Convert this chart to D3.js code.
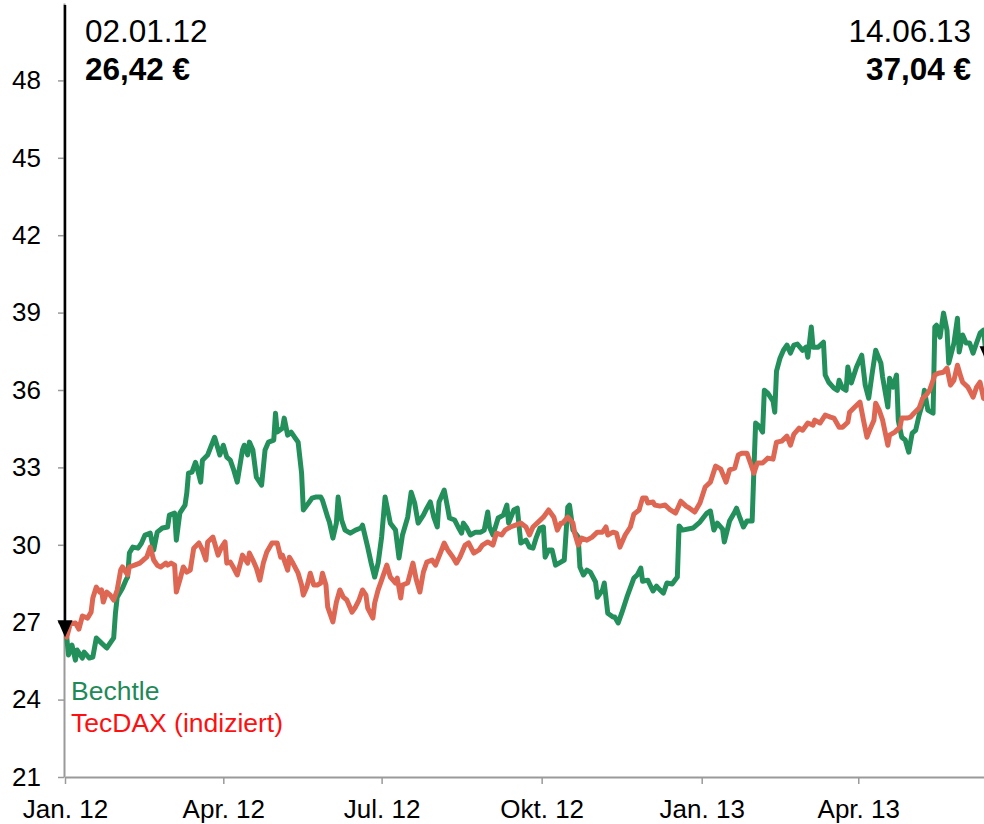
<!DOCTYPE html>
<html>
<head>
<meta charset="utf-8">
<script src="https://cdn.jsdelivr.net/npm/d3@7"></script>
<style>
	body { margin: 0; background: #fff; }
	#chart { width: 984px; height: 824px; overflow: hidden; }
	svg { display: block; font-family: Arial, "Liberation Sans", sans-serif; }
</style>
</head>
<body>
<div id="chart"></div>
<script>
// Daily closes, [date, price in €]
const bechtle = [
	["02.01.12",26.42],["03.01.12",25.73],["05.01.12",26.11],["07.01.12",25.53],["08.01.12",25.92],["11.01.12",25.61],["12.01.12",25.84],["15.01.12",25.61],["17.01.12",25.65],["19.01.12",26.39],["22.01.12",26.19],["25.01.12",26.00],["29.01.12",26.39],["30.01.12",27.35],["31.01.12",27.97],
	["03.02.12",28.32],["05.02.12",28.63],["06.02.12",28.75],["07.02.12",29.68],["09.02.12",29.91],["12.02.12",29.87],["14.02.12",30.07],["16.02.12",30.38],["19.02.12",30.45],["21.02.12",29.80],["23.02.12",30.49],["26.02.12",30.65],["29.02.12",30.69],
	["01.03.12",31.15],["04.03.12",31.23],["05.03.12",30.18],["07.03.12",31.23],["10.03.12",31.54],["11.03.12",32.00],["12.03.12",32.78],["14.03.12",32.82],["16.03.12",33.20],["17.03.12",32.97],["19.03.12",32.43],["20.03.12",33.28],["23.03.12",33.48],["27.03.12",34.17],["30.03.12",33.48],
	["01.04.12",33.86],["03.04.12",33.40],["05.04.12",33.28],["07.04.12",32.90],["09.04.12",32.43],["12.04.12",33.67],["13.04.12",33.86],["15.04.12",33.48],["16.04.12",33.98],["18.04.12",33.67],["20.04.12",32.62],["23.04.12",32.31],["25.04.12",33.67],["27.04.12",33.98],["30.04.12",34.06],
	["01.05.12",35.10],["02.05.12",34.37],["05.05.12",34.52],["06.05.12",34.91],["08.05.12",34.25],["10.05.12",34.37],["12.05.12",34.17],["14.05.12",33.98],["16.05.12",32.78],["17.05.12",31.35],["20.05.12",31.62],["22.05.12",31.81],["24.05.12",31.85],["27.05.12",31.85],["28.05.12",31.73],["31.05.12",31.07],
	["01.06.12",30.88],["03.06.12",30.26],["05.06.12",30.84],["06.06.12",31.85],["08.06.12",30.96],["10.06.12",30.57],["13.06.12",30.45],["16.06.12",30.57],["19.06.12",30.65],["20.06.12",30.76],["23.06.12",29.91],["25.06.12",29.29],["27.06.12",28.75],["29.06.12",29.29],
	["01.07.12",30.30],["03.07.12",31.85],["06.07.12",30.84],["09.07.12",30.57],["11.07.12",29.49],["13.07.12",30.38],["16.07.12",31.07],["18.07.12",32.04],["20.07.12",31.62],["22.07.12",30.84],["25.07.12",31.15],["27.07.12",31.42],["29.07.12",31.66],["31.07.12",31.07],
	["02.08.12",30.69],["03.08.12",31.66],["06.08.12",32.12],["08.08.12",31.42],["09.08.12",31.04],["12.08.12",30.96],["14.08.12",30.69],["16.08.12",30.45],["17.08.12",30.84],["19.08.12",30.65],["21.08.12",30.38],["24.08.12",30.49],["27.08.12",30.49],["29.08.12",30.57],["31.08.12",31.27],
	["01.09.12",30.69],["03.09.12",30.38],["06.09.12",31.04],["09.09.12",31.15],["11.09.12",31.54],["12.09.12",30.84],["15.09.12",31.35],["17.09.12",31.42],["19.09.12",30.07],["22.09.12",30.18],["24.09.12",29.91],["26.09.12",29.87],["28.09.12",30.30],["30.09.12",30.65],
	["02.10.12",30.69],["03.10.12",29.52],["05.10.12",29.80],["07.10.12",29.80],["09.10.12",29.21],["12.10.12",29.33],["14.10.12",29.41],["16.10.12",31.46],["17.10.12",31.54],["19.10.12",30.57],["22.10.12",30.30],["23.10.12",29.14],["25.10.12",28.83],["27.10.12",29.02],["29.10.12",28.94],
	["01.11.12",28.56],["02.11.12",27.97],["05.11.12",28.25],["06.11.12",28.52],["08.11.12",27.35],["11.11.12",27.20],["12.11.12",27.20],["14.11.12",26.97],["16.11.12",27.35],["19.11.12",27.97],["23.11.12",28.71],["25.11.12",28.83],["27.11.12",29.10],["28.11.12",28.59],
	["01.12.12",28.63],["04.12.12",28.21],["06.12.12",28.40],["08.12.12",28.25],["10.12.12",28.13],["12.12.12",28.52],["15.12.12",28.48],["18.12.12",28.75],["19.12.12",30.73],["21.12.12",30.57],["27.12.12",30.65],["31.12.12",30.88],
	["04.01.13",31.23],["06.01.13",31.31],["08.01.13",30.57],["10.01.13",30.84],["13.01.13",30.61],["14.01.13",30.11],["17.01.13",30.92],["20.01.13",31.27],["21.01.13",31.42],["23.01.13",31.04],["25.01.13",30.69],["27.01.13",30.92],["30.01.13",30.92],["31.01.13",32.90],
	["01.02.13",34.72],["03.02.13",34.60],["05.02.13",34.37],["06.02.13",35.99],["08.02.13",35.88],["11.02.13",35.57],["12.02.13",35.14],["13.02.13",36.73],["15.02.13",37.23],["17.02.13",37.54],["19.02.13",37.74],["21.02.13",37.43],["23.02.13",37.74],["25.02.13",37.78],["28.02.13",37.54],
	["02.03.13",37.66],["03.03.13",37.27],["05.03.13",38.44],["06.03.13",37.66],["09.03.13",37.66],["12.03.13",37.85],["13.03.13",36.58],["15.03.13",36.30],["18.03.13",36.07],["20.03.13",35.99],["21.03.13",36.38],["23.03.13",36.07],["25.03.13",35.99],["26.03.13",36.89],["28.03.13",36.27],["31.03.13",36.89],
	["03.04.13",37.35],["05.04.13",36.19],["07.04.13",35.68],["09.04.13",36.65],["11.04.13",37.54],["14.04.13",37.04],["15.04.13",36.50],["18.04.13",35.34],["19.04.13",36.46],["21.04.13",36.11],["23.04.13",36.58],["24.04.13",34.83],["26.04.13",34.17],["28.04.13",34.06],["30.04.13",33.59],
	["02.05.13",34.33],["04.05.13",34.44],["06.05.13",35.03],["08.05.13",35.49],["09.05.13",35.99],["11.05.13",35.22],["14.05.13",35.10],["15.05.13",38.44],["16.05.13",38.51],["18.05.13",38.05],["20.05.13",38.98],["22.05.13",38.32],["23.05.13",37.04],["26.05.13",37.82],["28.05.13",38.78],["29.05.13",37.47],["31.05.13",38.13],
	["02.06.13",37.82],["04.06.13",37.82],["06.06.13",37.43],["08.06.13",37.82],["10.06.13",38.20],["12.06.13",38.32],["14.06.13",37.04]
];

// TecDAX, indexed to the Bechtle start price
const tecdax = [
	["02.01.12",26.42],["04.01.12",26.93],["07.01.12",26.97],["09.01.12",26.73],["11.01.12",27.24],["14.01.12",27.16],["16.01.12",27.39],["17.01.12",27.94],["19.01.12",28.36],["21.01.12",28.17],["22.01.12",28.25],["23.01.12",27.78],["25.01.12",28.17],["27.01.12",28.05],["29.01.12",27.86],["31.01.12",28.25],
	["02.02.12",29.02],["03.02.12",29.14],["06.02.12",28.83],["07.02.12",29.14],["10.02.12",29.21],["13.02.12",29.29],["15.02.12",29.41],["17.02.12",29.52],["19.02.12",29.91],["21.02.12",29.41],["23.02.12",29.21],["25.02.12",29.14],["28.02.12",29.29],["29.02.12",29.21],
	["02.03.12",29.29],["04.03.12",29.21],["05.03.12",28.17],["07.03.12",28.63],["09.03.12",29.14],["11.03.12",28.94],["13.03.12",29.02],["15.03.12",29.87],["18.03.12",30.07],["20.03.12",29.80],["22.03.12",29.41],["23.03.12",30.11],["26.03.12",30.30],["27.03.12",30.07],["29.03.12",29.60],["31.03.12",29.91],
	["02.04.12",30.11],["03.04.12",29.29],["05.04.12",29.33],["07.04.12",29.10],["09.04.12",28.83],["11.04.12",29.33],["12.04.12",29.60],["15.04.12",29.29],["16.04.12",29.68],["18.04.12",29.41],["20.04.12",29.10],["22.04.12",28.63],["24.04.12",29.29],["26.04.12",29.72],["29.04.12",30.07],
	["02.05.12",30.07],["04.05.12",29.52],["05.05.12",29.60],["08.05.12",29.02],["09.05.12",29.52],["11.05.12",29.29],["14.05.12",28.90],["16.05.12",28.44],["17.05.12",28.05],["19.05.12",28.36],["21.05.12",28.90],["23.05.12",28.44],["25.05.12",28.44],["27.05.12",28.52],["28.05.12",28.90],["30.05.12",28.44],["31.05.12",27.59],
	["03.06.12",27.01],["05.06.12",27.78],["07.06.12",28.25],["09.06.12",27.97],["11.06.12",27.86],["14.06.12",27.39],["16.06.12",27.59],["18.06.12",27.86],["20.06.12",28.25],["22.06.12",28.05],["23.06.12",27.55],["26.06.12",27.16],["27.06.12",27.74],["29.06.12",28.25],
	["01.07.12",28.63],["04.07.12",29.21],["06.07.12",28.75],["09.07.12",28.52],["10.07.12",28.71],["12.07.12",27.94],["13.07.12",28.44],["16.07.12",28.52],["19.07.12",29.29],["21.07.12",28.63],["23.07.12",28.17],["25.07.12",28.94],["27.07.12",29.33],["30.07.12",29.41],
	["01.08.12",29.21],["04.08.12",29.72],["06.08.12",30.07],["08.08.12",29.80],["11.08.12",29.52],["13.08.12",29.29],["15.08.12",29.52],["18.08.12",29.99],["20.08.12",30.07],["23.08.12",29.68],["26.08.12",29.80],["28.08.12",29.99],["31.08.12",30.11],
	["03.09.12",29.99],["05.09.12",30.45],["08.09.12",30.38],["10.09.12",30.57],["13.09.12",30.69],["16.09.12",30.76],["19.09.12",30.84],["22.09.12",30.69],["24.09.12",30.38],["26.09.12",30.69],["29.09.12",30.88],
	["02.10.12",31.07],["05.10.12",31.35],["08.10.12",31.07],["10.10.12",30.57],["12.10.12",30.84],["13.10.12",30.84],["16.10.12",31.07],["19.10.12",30.84],["20.10.12",30.45],["22.10.12",29.99],["24.10.12",30.26],["27.10.12",30.18],["30.10.12",30.30],
	["02.11.12",30.49],["05.11.12",30.49],["07.11.12",30.69],["08.11.12",30.38],["11.11.12",30.49],["13.11.12",30.45],["15.11.12",29.91],["18.11.12",30.38],["21.11.12",30.69],["23.11.12",31.19],["26.11.12",31.35],["28.11.12",31.81],["30.11.12",31.81],
	["01.12.12",31.62],["04.12.12",31.66],["05.12.12",31.54],["08.12.12",31.50],["11.12.12",31.54],["14.12.12",31.35],["17.12.12",31.23],["20.12.12",31.69],["23.12.12",31.50],["25.12.12",31.42],["28.12.12",31.27],["31.12.12",31.62],
	["03.01.13",32.24],["06.01.13",32.43],["09.01.13",33.05],["12.01.13",32.93],["15.01.13",32.43],["17.01.13",32.90],["20.01.13",32.97],["22.01.13",33.48],["24.01.13",33.55],["27.01.13",33.55],["29.01.13",33.17],["31.01.13",32.78],
	["02.02.13",33.17],["05.02.13",33.17],["08.02.13",33.36],["11.02.13",33.32],["13.02.13",33.98],["16.02.13",34.02],["19.02.13",34.21],["21.02.13",33.86],["23.02.13",34.29],["26.02.13",34.52],["28.02.13",34.44],
	["03.03.13",34.72],["06.03.13",34.64],["07.03.13",34.83],["10.03.13",34.72],["13.03.13",35.03],["16.03.13",34.95],["18.03.13",34.91],["21.03.13",34.56],["23.03.13",34.56],["26.03.13",34.75],["27.03.13",35.14],["30.03.13",35.34],
	["02.04.13",35.53],["04.04.13",34.83],["06.04.13",34.17],["08.04.13",34.52],["10.04.13",34.83],["11.04.13",35.49],["13.04.13",35.22],["15.04.13",34.83],["18.04.13",33.86],["19.04.13",34.25],["22.04.13",34.37],["25.04.13",34.56],["26.04.13",34.91],["29.04.13",34.91],
	["01.05.13",34.95],["03.05.13",35.10],["06.05.13",35.30],["08.05.13",35.68],["10.05.13",35.80],["12.05.13",35.99],["15.05.13",36.58],["17.05.13",36.65],["20.05.13",36.69],["22.05.13",36.85],["24.05.13",36.19],["26.05.13",36.38],["28.05.13",36.96],["30.05.13",36.50],["31.05.13",36.30],
	["03.06.13",36.11],["04.06.13",35.99],["06.06.13",35.72],["08.06.13",36.11],["10.06.13",36.30],["12.06.13",35.68],["14.06.13",35.61]
];

const seriesNames = ["Bechtle", "TecDAX (indiziert)"];
const yTicks = [21, 24, 27, 30, 33, 36, 39, 42, 45, 48];
const xTickDates = ["01.01.12", "01.04.12", "01.07.12", "01.10.12", "01.01.13", "01.04.13"];
const xTickLabels = ["Jan. 12", "Apr. 12", "Jul. 12", "Okt. 12", "Jan. 13", "Apr. 13"];
const periodStart = ["01.01.12", "02.01.12", 26.42];	// axis start, first quote date, first price
const periodEnd = ["14.06.13", 37.04];				// last quote date, last price

const parse = d3.utcParse("%d.%m.%y"),
	euro = v => v.toFixed(2).replace(".", ",") + " €";

const width = 984,
	height = 824,
	margin = {top: 3, right: -3, bottom: 47, left: 65};

const colors = {
	line: ["#238f5b", "#de6753"],
	label: ["#1f8a58", "#ff1010"],
	axis: "#9a9a9a"
};

const x = d3.scaleUtc()
	.domain([parse(periodStart[0]), parse(periodEnd[0])])
	.range([margin.left, width - margin.right]);

const y = d3.scaleLinear()
	.domain([21, 51])
	.range([height - margin.bottom, margin.top]);

const svg = d3.select("#chart").append("svg")
	.attr("width", width)
	.attr("height", height);

// ### axes
const yAxis = svg.append("g")
	.attr("transform", `translate(${margin.left - 1},0)`)
	.call(d3.axisLeft(y).tickValues(yTicks).tickSize(6).tickSizeOuter(0).tickPadding(17));

const xAxis = svg.append("g")
	.attr("transform", `translate(0,${height - margin.bottom})`)
	.call(d3.axisBottom(x)
		.tickValues(xTickDates.map(parse))
		.tickFormat((d, i) => xTickLabels[i])
		.tickSize(7).tickSizeOuter(0).tickPadding(16));

[yAxis, xAxis].forEach(a => {
	a.select(".domain").attr("stroke", colors.axis).attr("stroke-width", 2);
	a.selectAll(".tick line").attr("stroke", colors.axis).attr("stroke-width", 1.5);
	a.selectAll(".tick text")
		.attr("fill", "#000")
		.style("font-size", "26px")
		.style("font-family", "Arial, 'Liberation Sans', sans-serif");
});

// ### lines
const line = d3.line()
	.x(d => x(parse(d[0])))
	.y(d => y(d[1]));

[bechtle, tecdax].forEach((series, i) => {
	svg.append("path")
		.datum(series)
		.attr("fill", "none")
		.attr("stroke", colors.line[i])
		.attr("stroke-width", 5)
		.attr("stroke-linejoin", "round")
		.attr("stroke-linecap", "round")
		.attr("d", line);
});

// ### start / end markers: a black drop line ending in a triangle at the price
function marker(date, price){
	const mx = x(date),
		my = y(price);
	svg.append("line")
		.attr("x1", mx).attr("x2", mx)
		.attr("y1", y.range()[1] + 2).attr("y2", my - 16)
		.attr("stroke", "#000")
		.attr("stroke-width", 2.5);
	svg.append("path")
		.attr("d", `M${mx - 7.5},${my - 17}L${mx + 7.5},${my - 17}L${mx},${my}Z`)
		.attr("fill", "#000");
}
marker(x.domain()[0], periodStart[2]);
marker(x.domain()[1], periodEnd[1]);

// ### header labels
const header = svg.append("g").style("font-size", "31.5px").attr("fill", "#000");

header.append("text").attr("x", 85).attr("y", 42)
	.text(d3.utcFormat("%d.%m.%y")(parse(periodStart[1])));
header.append("text").attr("x", 85).attr("y", 80)
	.style("font-weight", "bold")
	.text(euro(periodStart[2]));

header.append("text").attr("x", 971).attr("y", 42)
	.attr("text-anchor", "end")
	.text(periodEnd[0]);
header.append("text").attr("x", 971).attr("y", 80)
	.attr("text-anchor", "end")
	.style("font-weight", "bold")
	.text(euro(periodEnd[1]));

// ### legend
svg.append("g")
	.selectAll("text")
	.data(seriesNames)
	.join("text")
	.attr("x", 71)
	.attr("y", (d, i) => 700 + i * 31.5)
	.attr("fill", (d, i) => colors.label[i])
	.style("font-size", "26.5px")
	.text(d => d);
</script>
</body>
</html>
